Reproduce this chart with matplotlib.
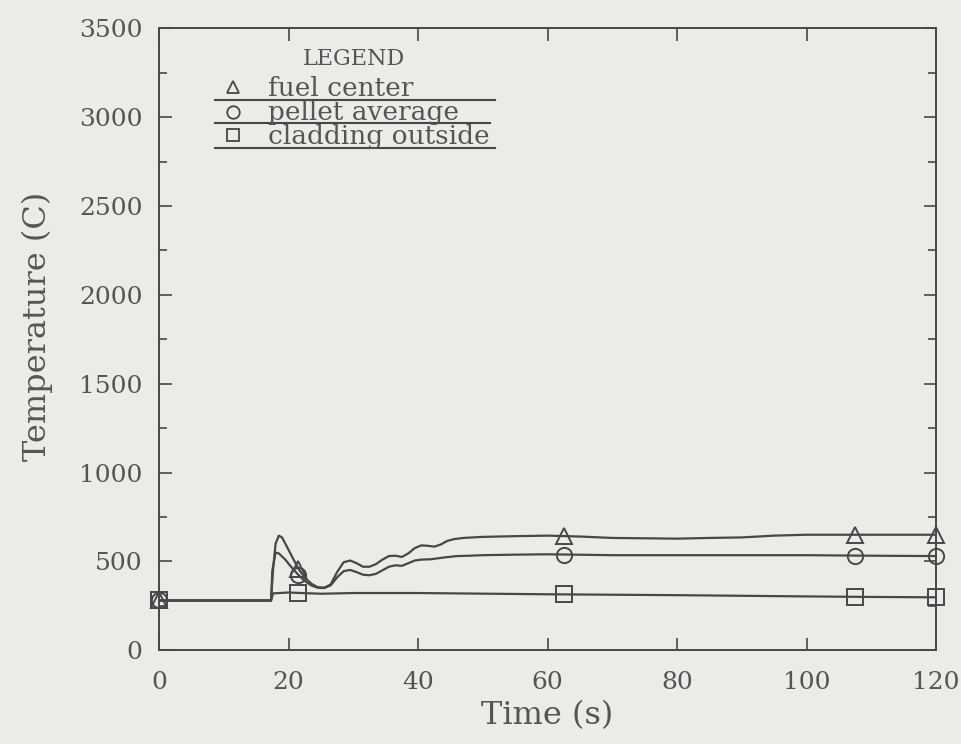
import numpy as np
import matplotlib
matplotlib.use("Agg")
import matplotlib.pyplot as plt

# ---- data ----
fuel_t = [0, 17.3, 17.6, 18.0, 18.5, 19.0, 19.5, 20.5, 21.5, 22.5, 23.5, 24.5, 25.5,
          26.5, 27.5, 28.5, 29.5, 30.5, 31.5, 32.5, 33.5, 34.5, 35.5, 36.5, 37.5,
          38.5, 39.5, 40.5, 41.5, 42.5, 43.5, 44.5, 45.5, 47, 50, 55, 60, 65, 70,
          75, 80, 85, 90, 95, 100, 105, 110, 115, 120]
fuel_T = [280, 280, 450, 600, 645, 635, 600, 530, 460, 410, 375, 355, 352,
          370, 440, 495, 505, 490, 470, 470, 485, 510, 530, 532, 525,
          545, 575, 590, 588, 583, 595, 615, 625, 632, 638, 642, 645, 640, 632,
          630, 628, 632, 635, 645, 650, 650, 650, 650, 650]

pellet_t = [0, 17.3, 17.5, 18.0, 18.5, 19.5, 20.5, 21.5, 22.5, 23.5, 24.5, 25.5,
            26.5, 27.5, 28.5, 29.5, 30.5, 31.5, 32.5, 33.5, 34.5, 35.5, 36.5,
            37.5, 38.5, 39.5, 40.5, 42, 44, 46, 48, 50, 55, 60, 70, 80, 90, 100,
            110, 120]
pellet_T = [280, 280, 450, 550, 545, 510, 465, 425, 390, 365, 352, 350,
            365, 410, 445, 452, 440, 425, 422, 430, 450, 470, 478,
            475, 490, 505, 510, 512, 522, 530, 532, 535, 538, 540, 535, 535, 535, 535,
            532, 530]

clad_t = [0, 17.3, 17.6, 20, 22, 25, 30, 40, 60, 80, 100, 110, 120]
clad_T = [280, 280, 320, 325, 322, 318, 322, 322, 315, 310, 303, 300, 298]

marker_times = [0, 21.5, 62.5, 107.5, 120]

series_labels = ["fuel center", "pellet average", "cladding outside"]
x_ticks = [0, 20, 40, 60, 80, 100, 120]
y_ticks = [0, 500, 1000, 1500, 2000, 2500, 3000, 3500]

# ---- style ----
bg = "#ecebe8"
ink = "#474747"
txt = "#555555"
plt.rcParams["font.family"] = ["DejaVu Serif"]

fig = plt.figure(figsize=(9.61, 7.44), dpi=100, facecolor=bg)
ax = fig.add_axes([0.1655, 0.126, 0.8085, 0.836], facecolor=bg)

series = [(fuel_t, fuel_T, "^"), (pellet_t, pellet_T, "o"), (clad_t, clad_T, "s")]
for t, T, m in series:
    ax.plot(t, T, color=ink, lw=1.6)
    my = np.interp(marker_times, t, T)
    ax.plot(marker_times, my, linestyle="none", marker=m, ms=11, mfc="none",
            mec=ink, mew=1.4, clip_on=False)

ax.set_xlim(0, 120)
ax.set_ylim(0, 3500)
ax.set_xticks(x_ticks)
ax.set_yticks(y_ticks)
ax.set_yticks(np.arange(250, 3500, 500), minor=True)
ax.tick_params(axis="both", which="major", direction="in", length=9, width=1.2,
               colors=ink, labelcolor=txt, labelsize=18, top=True, right=True)
ax.tick_params(axis="y", which="minor", direction="in", length=6, width=1.2,
               colors=ink, left=True, right=True)
ax.tick_params(axis="x", pad=15)
ax.tick_params(axis="y", pad=12)
for s in ax.spines.values():
    s.set_color(ink)
    s.set_linewidth(1.4)

ax.set_xlabel("Time (s)", fontsize=23, color=txt, labelpad=4)
ax.set_ylabel("Temperature (C)", fontsize=23, color=txt)
ax.yaxis.set_label_coords(-0.137, 0.52)

# ---- legend (drawn in axes coordinates) ----
tr = ax.transAxes
ax.text(0.251, 0.950, "LEGEND", transform=tr, ha="center", va="center",
        fontsize=16, color=txt)
leg_rows = [(0.906, 0.903, 0.884, 0.432, "^"),
            (0.866, 0.864, 0.847, 0.426, "o"),
            (0.828, 0.826, 0.807, 0.432, "s")]
for (my, ty, ly, lx2, m), lab in zip(leg_rows, series_labels):
    ax.plot([0.095], [my], transform=tr, marker=m, ms=9, mfc="none", mec=ink,
            mew=1.3, linestyle="none")
    ax.text(0.140, ty, lab, transform=tr, ha="left", va="center", fontsize=19,
            color=txt)
    ax.plot([0.072, lx2], [ly, ly], transform=tr, color=ink, lw=1.5)

fig.savefig("out.png", dpi=100, facecolor=bg)
